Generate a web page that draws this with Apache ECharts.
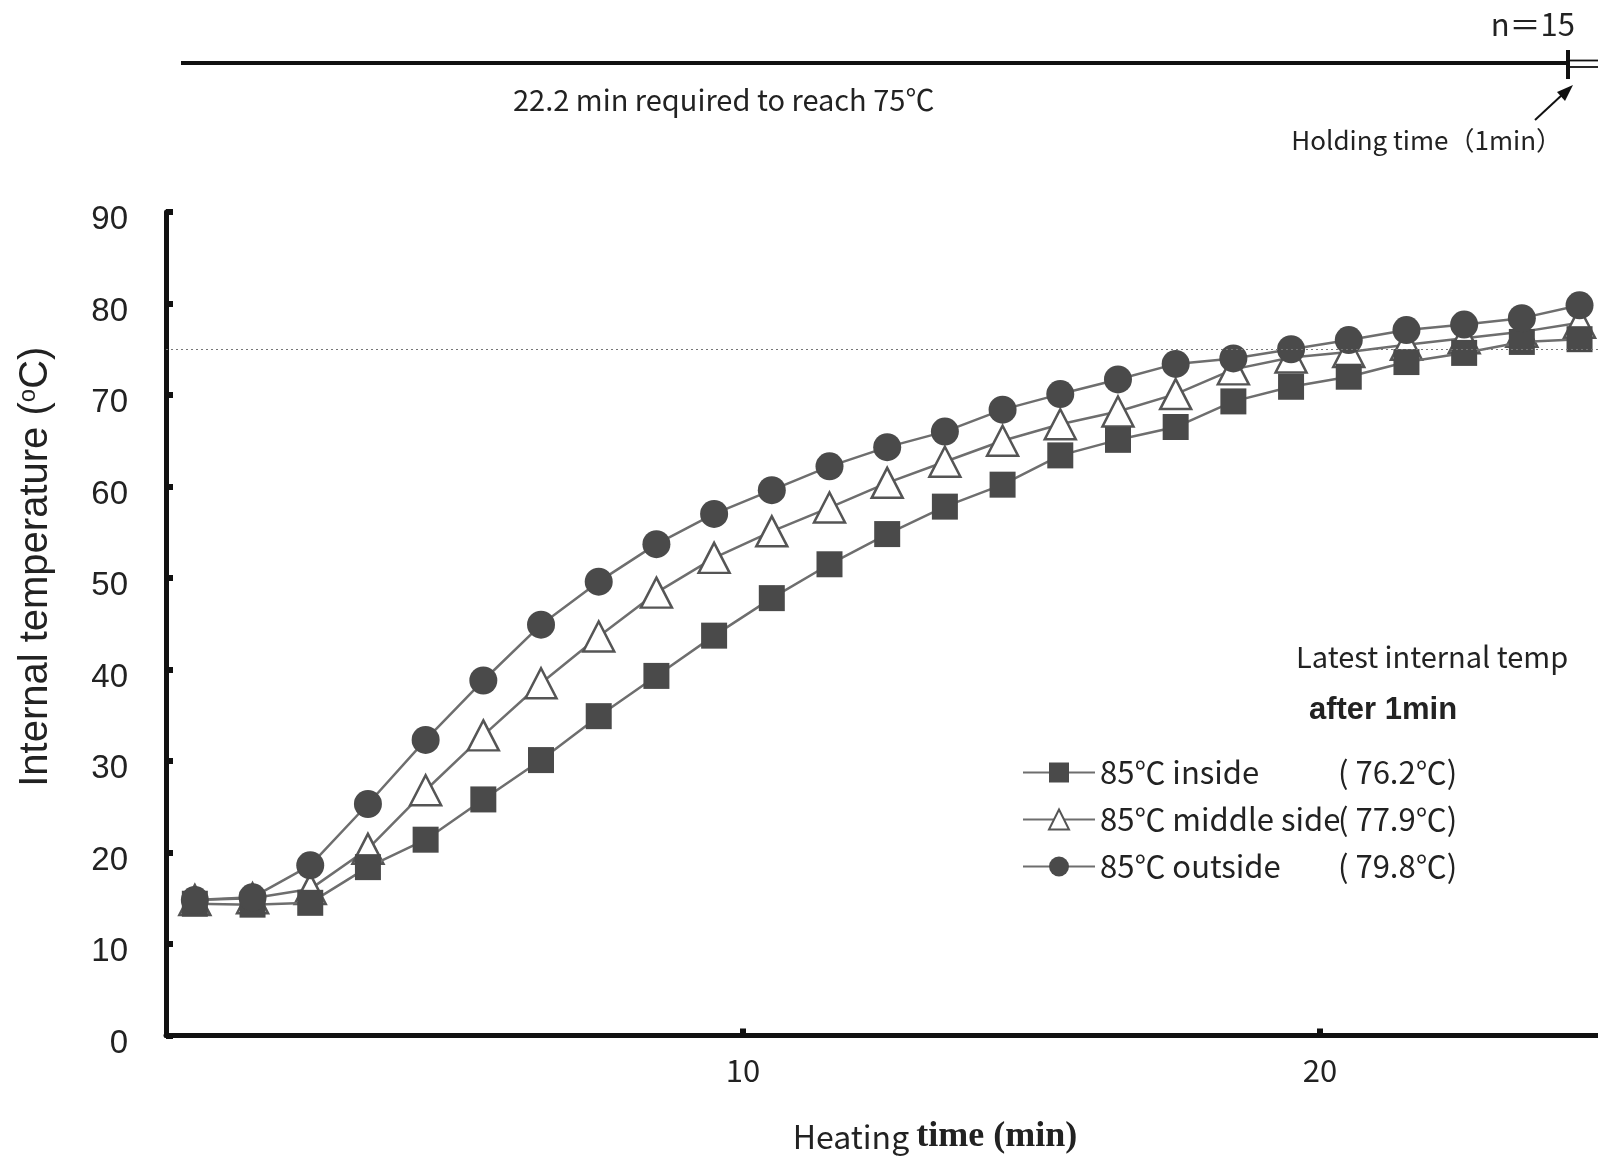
<!DOCTYPE html>
<html><head><meta charset="utf-8">
<script src="https://cdn.jsdelivr.net/npm/echarts@6/dist/echarts.min.js"></script>
<style>html,body{margin:0;padding:0;background:#fff}#c{width:1598px;height:1162px}</style>
</head><body><div id="c"></div>
<script>
// ---- data ----
const times = [0.5, 1.5, 2.5, 3.5, 4.5, 5.5, 6.5, 7.5, 8.5, 9.5, 10.5, 11.5, 12.5,
               13.5, 14.5, 15.5, 16.5, 17.5, 18.5, 19.5, 20.5, 21.5, 22.5, 23.5, 24.5];
const insideTemps  = [14.4, 14.3, 14.5, 18.4, 21.4, 25.8, 30.1, 34.9, 39.3, 43.7, 47.8, 51.5, 54.8,
                      57.8, 60.2, 63.4, 65.1, 66.5, 69.3, 70.9, 72.0, 73.6, 74.6, 75.8, 76.1];
const middleTemps  = [14.8, 15.0, 16.0, 20.4, 26.8, 32.8, 38.5, 43.6, 48.4, 52.2, 55.1, 57.7, 60.4,
                      62.7, 65.0, 66.8, 68.2, 70.1, 72.8, 74.1, 74.7, 75.5, 76.2, 76.9, 77.9];
const outsideTemps = [14.8, 15.1, 18.6, 25.3, 32.3, 38.8, 44.9, 49.6, 53.7, 57.0, 59.6, 62.2, 64.3,
                      66.0, 68.4, 70.1, 71.7, 73.4, 74.0, 75.0, 76.0, 77.1, 77.7, 78.4, 79.8];
const seriesNames = ['85℃ inside', '85℃ middle side', '85℃ outside'];
const latestTemps = ['76.2', '77.9', '79.8'];
const xTickValues = [10, 20];
const thresholdTemp = 75;

const pair = (ys) => times.map((t, i) => [t, ys[i]]);
const latestOf = {};
seriesNames.forEach((n, i) => latestOf[n] = latestTemps[i]);

const JP = "'Noto Sans CJK JP', 'Noto Sans', sans-serif";
const LINE = '#6e6e6e';
const FILL = '#4a4a4a';

const chart = echarts.init(document.getElementById('c'), null, {renderer: 'canvas'});
chart.setOption({
  animation: false,
  backgroundColor: '#fff',
  grid: {left: 166, right: 0, top: 212, bottom: 126.5, containLabel: false, outerBoundsMode: 'none'},
  xAxis: {
    type: 'value', min: 0, max: 24.82, interval: 10,
    splitLine: {show: false},
    axisLine: {lineStyle: {color: '#111', width: 5}},
    axisTick: {inside: true, length: 7, customValues: xTickValues, lineStyle: {color: '#111', width: 6}},
    axisLabel: {customValues: xTickValues, margin: 19, fontFamily: JP, fontSize: 31, color: '#222'},
    name: 'Heating {b|time (min)}',
    nameLocation: 'middle', nameGap: 83,
    nameTextStyle: {
      fontFamily: JP, fontSize: 32, color: '#222', padding: [0, 0, 0, 106],
      rich: {b: {fontFamily: "'Liberation Serif', serif", fontWeight: 'bold', fontSize: 36, color: '#222'}}
    }
  },
  yAxis: {
    type: 'value', min: 0, max: 90, interval: 10,
    splitLine: {show: false},
    axisLine: {lineStyle: {color: '#111', width: 5}},
    axisTick: {inside: true, length: 7, lineStyle: {color: '#111', width: 6}},
    axisLabel: {margin: 38, fontFamily: "'Liberation Sans', Arial, sans-serif", fontSize: 33, color: '#222',
                verticalAlign: 'top', lineHeight: 16},
    name: 'Internal temperature ({s|o}C)',
    nameLocation: 'middle', nameGap: 110, nameRotate: 90,
    nameTextStyle: {
      fontFamily: "'Liberation Sans', sans-serif", fontSize: 40, color: '#222', padding: [0, 0, 0, 114],
      rich: {s: {fontFamily: "'Liberation Sans', sans-serif", fontSize: 24, color: '#222', verticalAlign: 'top', padding: [0, 0, 14, 0]}}
    }
  },
  legend: {
    data: seriesNames,
    orient: 'vertical', left: 1017, top: 752,
    itemWidth: 72, itemHeight: 25, itemGap: 16,
    inactiveColor: '#222',
    formatter: (name) => '{n|' + name + '}{v|( ' + latestOf[name] + '℃)}',
    textStyle: {
      fontFamily: JP, fontSize: 31, color: '#222', lineHeight: 30,
      rich: {
        n: {fontFamily: JP, fontSize: 31, color: '#222', width: 238, lineHeight: 30},
        v: {fontFamily: JP, fontSize: 31, color: '#222', lineHeight: 30}
      }
    }
  },
  series: [
    {
      name: seriesNames[1], type: 'line', data: pair(middleTemps),
      symbol: 'triangle', symbolSize: [31, 30], showAllSymbol: true,
      itemStyle: {color: '#ffffff', borderColor: '#555', borderWidth: 2.5},
      lineStyle: {color: LINE, width: 2.5},
      z: 2,
      markLine: {
        silent: true, symbol: 'none', label: {show: false},
        lineStyle: {color: '#777', width: 1, type: [2, 3]},
        data: [{yAxis: thresholdTemp}]
      }
    },
    {
      name: seriesNames[0], type: 'line', data: pair(insideTemps),
      symbol: 'rect', symbolSize: 26, showAllSymbol: true,
      itemStyle: {color: FILL, borderColor: FILL, borderWidth: 0},
      lineStyle: {color: LINE, width: 2.5},
      z: 3
    },
    {
      name: seriesNames[2], type: 'line', data: pair(outsideTemps),
      symbol: 'circle', symbolSize: 28, showAllSymbol: true,
      itemStyle: {color: FILL, borderColor: FILL, borderWidth: 0},
      lineStyle: {color: LINE, width: 2.5},
      z: 4
    }
  ],
  graphic: [
    // top time bar
    {type: 'line', shape: {x1: 181, y1: 63, x2: 1568, y2: 63}, style: {stroke: '#111', lineWidth: 4}},
    {type: 'line', shape: {x1: 1568, y1: 50, x2: 1568, y2: 79}, style: {stroke: '#111', lineWidth: 4}},
    {type: 'line', shape: {x1: 1570, y1: 60.5, x2: 1598, y2: 60.5}, style: {stroke: '#111', lineWidth: 1.8}},
    {type: 'line', shape: {x1: 1570, y1: 67, x2: 1598, y2: 67}, style: {stroke: '#111', lineWidth: 1.8}},
    {type: 'text', x: 1575, y: 24, style: {text: 'n＝15', font: "31px 'Noto Sans CJK JP'", fill: '#222', align: 'right', verticalAlign: 'middle'}},
    {type: 'text', x: 513, y: 100, style: {text: '22.2 min required to reach 75℃', font: "29px 'Noto Sans CJK JP'", fill: '#222', align: 'left', verticalAlign: 'middle'}},
    {type: 'text', x: 1562, y: 140, style: {text: 'Holding time（1min）', font: "26px 'Noto Sans CJK JP'", fill: '#222', align: 'right', verticalAlign: 'middle'}},
    // arrow
    {type: 'line', shape: {x1: 1535, y1: 120, x2: 1563, y2: 94}, style: {stroke: '#111', lineWidth: 2}},
    {type: 'polygon', shape: {points: [[1573, 85], [1565, 101], [1557, 92]]}, style: {fill: '#111'}},
    // legend header
    {type: 'text', x: 1296, y: 657, style: {text: 'Latest internal temp', font: "29px 'Noto Sans CJK JP'", fill: '#222', align: 'left', verticalAlign: 'middle'}},
    {type: 'text', x: 1383, y: 710, style: {text: 'after 1min', font: "bold 31px 'Liberation Sans'", fill: '#222', align: 'center', verticalAlign: 'middle'}}
  ]
});
</script>
</body></html>
